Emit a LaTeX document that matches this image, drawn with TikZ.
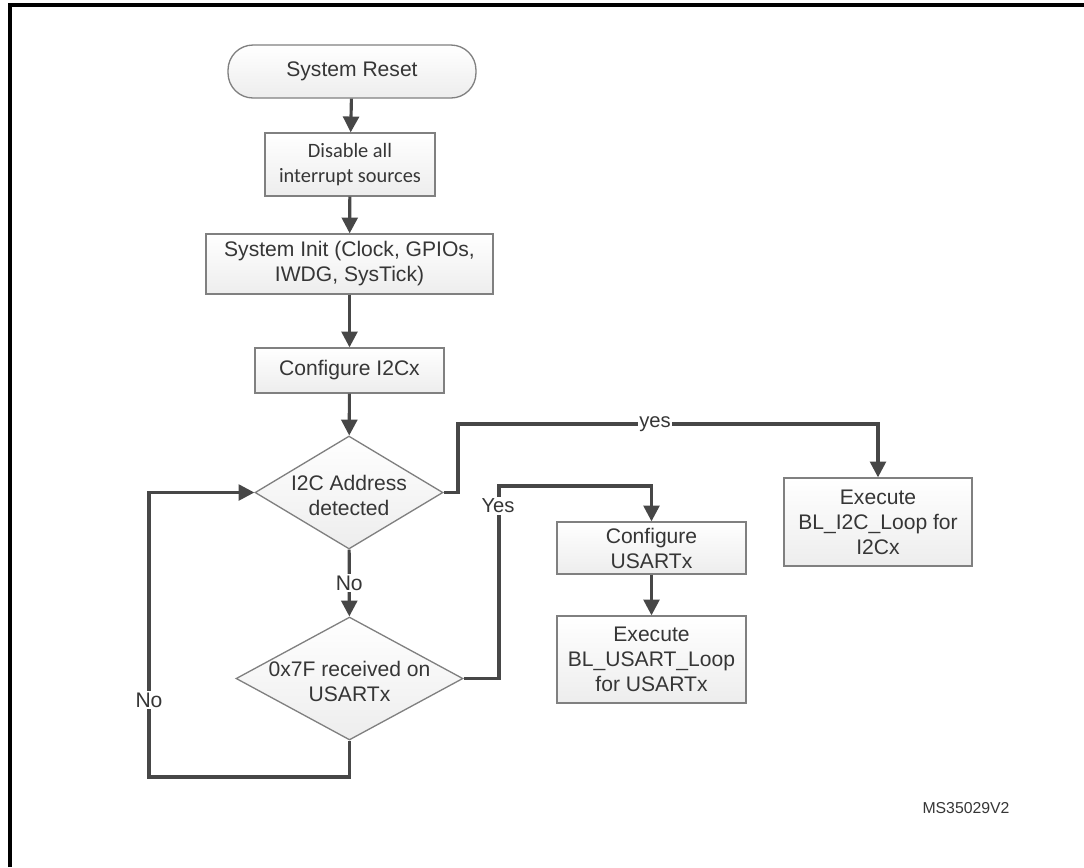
\documentclass[tikz,border=0pt]{standalone}
\usepackage{fontspec}
\setmainfont{Liberation Sans}
\newfontfamily\calibri{Carlito}
\usetikzlibrary{shapes.geometric,arrows.meta}
\definecolor{gristrazo}{HTML}{474747}
\definecolor{grisborde}{HTML}{808080}
\definecolor{gristexto}{HTML}{363636}
\definecolor{grisfondo}{HTML}{EDEDED}
\tikzset{
  caja/.style={draw=grisborde, line width=0.75pt, top color=white, bottom color=grisfondo,
    inner sep=0pt, align=center, text=gristexto, font=\fontsize{12}{14.2}\selectfont},
  inicio/.style={caja, rounded corners=0.5cm},
  decision/.style={caja, diamond},
  flecha/.style={draw=gristrazo, line width=1.8pt, -{Triangle[length=9pt,width=9pt]}},
  etiqueta/.style={fill=white, inner sep=1pt, text=gristexto, font=\fontsize{11.5}{13}\selectfont}
}
\newcommand{\dentro}[1]{\smash{\makebox[0pt]{\raisebox{-0.5em}{\begin{tabular}{@{}c@{}}#1\end{tabular}}}}}
\begin{document}
\begin{tikzpicture}[x=0.02cm,y=-0.02cm]
\useasboundingbox (0,0) rectangle (1084,867);
\draw[line width=2.3pt] (10,867) -- (10,5) -- (1084,5);
% bloques
\node[inicio, minimum width=4.96cm, minimum height=1.06cm] (reset) at (352,71.5) {System Reset};
\node[caja, minimum width=3.4cm, minimum height=1.26cm, font=\calibri\fontsize{11.6}{14.5}\selectfont] (disable) at (350,164.5) {Disable all\\interrupt sources};
\node[caja, minimum width=5.74cm, minimum height=1.2cm] (init) at (349.5,264) {System Init (Clock, GPIOs,\\IWDG, SysTick)};
\node[caja, minimum width=3.78cm, minimum height=0.9cm] (cfgi2c) at (349.5,370.5) {Configure I2Cx};
\node[decision, minimum width=3.76cm, minimum height=2.26cm] (addr) at (349,492.5) {\dentro{I2C Address\\detected}};
\node[decision, minimum width=4.54cm, minimum height=2.46cm] (rx) at (349.5,678.5) {\dentro{0x7F received on\\USARTx}};
\node[caja, minimum width=3.78cm, minimum height=1.04cm] (cfgusart) at (651.5,548) {Configure\\USARTx};
\node[caja, minimum width=3.78cm, minimum height=1.74cm] (execusart) at (651.5,659.5) {Execute\\BL\_USART\_Loop\\for USARTx};
\node[caja, minimum width=3.76cm, minimum height=1.76cm] (execi2c) at (878,522) {Execute\\BL\_I2C\_Loop for\\I2Cx};
% esquinas
\coordinate (esqi2c) at (458,424);
\coordinate (esqusart) at (499,486);
\coordinate (esqno) at (149,777);
% flechas
\draw[flecha] (reset) -- (disable);
\draw[flecha] (disable) -- (init);
\draw[flecha] (init) -- (cfgi2c);
\draw[flecha] (cfgi2c) -- (addr);
\draw[flecha] (addr) -- node[etiqueta, font=\fontsize{12}{13}\selectfont] (nolbl) {No} (rx);
\draw[flecha] (addr.east) -| (esqi2c) -| (execi2c.north);
\draw[flecha] (rx.east) -| (esqusart) -| (cfgusart.north);
\draw[flecha] (cfgusart) -- (execusart);
\draw[flecha] (rx.south) |- (esqno) |- (addr.west);
\node[etiqueta] (yesi2c) at (655,424) {yes};
\node[etiqueta] (yesusart) at (498,506) {Yes};
\node[etiqueta, font=\fontsize{12}{13}\selectfont] (noloop) at (149,700) {No};
\node[text=gristexto, font=\fontsize{9}{10}\selectfont] (codigo) at (966,808) {MS35029V2};
\end{tikzpicture}
\end{document}
